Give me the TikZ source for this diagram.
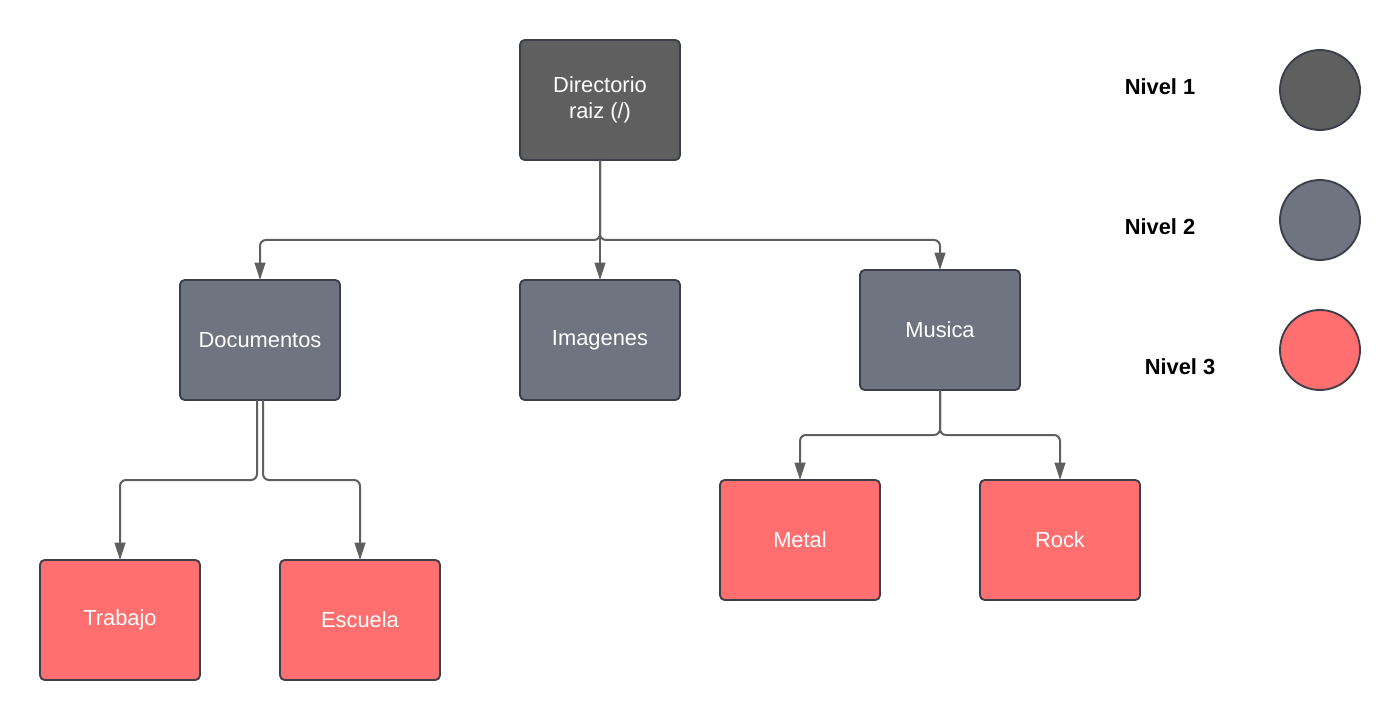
\documentclass[tikz,border=0pt]{standalone}
\usepackage{fontspec}
\setmainfont{Liberation Sans}
\usepackage{tikz}
\usetikzlibrary{arrows.meta}

\definecolor{nivelA}{HTML}{5F5F5F}
\definecolor{nivelB}{HTML}{6F7480}
\definecolor{nivelC}{HTML}{FF6F6F}
\definecolor{borde}{HTML}{3A3F4A}
\definecolor{linea}{HTML}{5F5F5F}

\tikzset{
  caja/.style={draw=borde, line width=1.4pt, rounded corners=3.5pt,
    minimum width=120pt, minimum height=90pt, outer sep=0pt,
    text=white, align=center, font=\fontsize{16.4}{20}\selectfont},
  nivel/.style={draw=borde, line width=1.4pt, circle, minimum size=60pt, inner sep=0pt},
  leyenda/.style={font=\fontsize{16.4}{20}\selectfont\bfseries},
  conn/.style={draw=linea, line width=1.5pt, rounded corners=4.5pt,
    -{Triangle[length=13pt,width=8pt]}}
}

\begin{document}
\begin{tikzpicture}[x=0.75pt, y=-0.75pt]
\useasboundingbox (0,0) rectangle (1400,720);

% arbol de directorios
\node[caja, fill=nivelA] (root) at (600,100) {Directorio\\raiz (/)};
\node[caja, fill=nivelB] (doc) at (260,340) {Documentos};
\node[caja, fill=nivelB] (img) at (600,340) {Imagenes};
\node[caja, fill=nivelB] (mus) at (940,330) {Musica};
\node[caja, fill=nivelC] (trab) at (120,620) {Trabajo};
\node[caja, fill=nivelC] (esc) at (360,620) {Escuela};
\node[caja, fill=nivelC] (metal) at (800,540) {Metal};
\node[caja, fill=nivelC] (rock) at (1060,540) {Rock};

\draw[conn] (root.south) -- ++(0,80) -| (doc.north);
\draw[conn] (root.south) -- (img.north);
\draw[conn] (root.south) -- ++(0,80) -| (mus.north);
\draw[conn] ([xshift=-2.25pt]doc.south) -- ++(0,80) -| (trab.north);
\draw[conn] ([xshift=2.25pt]doc.south) -- ++(0,80) -| (esc.north);
\draw[conn] (mus.south) -- ++(0,45) -| (metal.north);
\draw[conn] (mus.south) -- ++(0,45) -| (rock.north);

% leyenda
\node[leyenda] (n1) at (1160,87) {Nivel 1};
\node[leyenda] (n2) at (1160,227) {Nivel 2};
\node[leyenda] (n3) at (1180,367) {Nivel 3};
\node[nivel, fill=nivelA] (c1) at (1320,90) {};
\node[nivel, fill=nivelB] (c2) at (1320,220) {};
\node[nivel, fill=nivelC] (c3) at (1320,350) {};
\end{tikzpicture}
\end{document}
